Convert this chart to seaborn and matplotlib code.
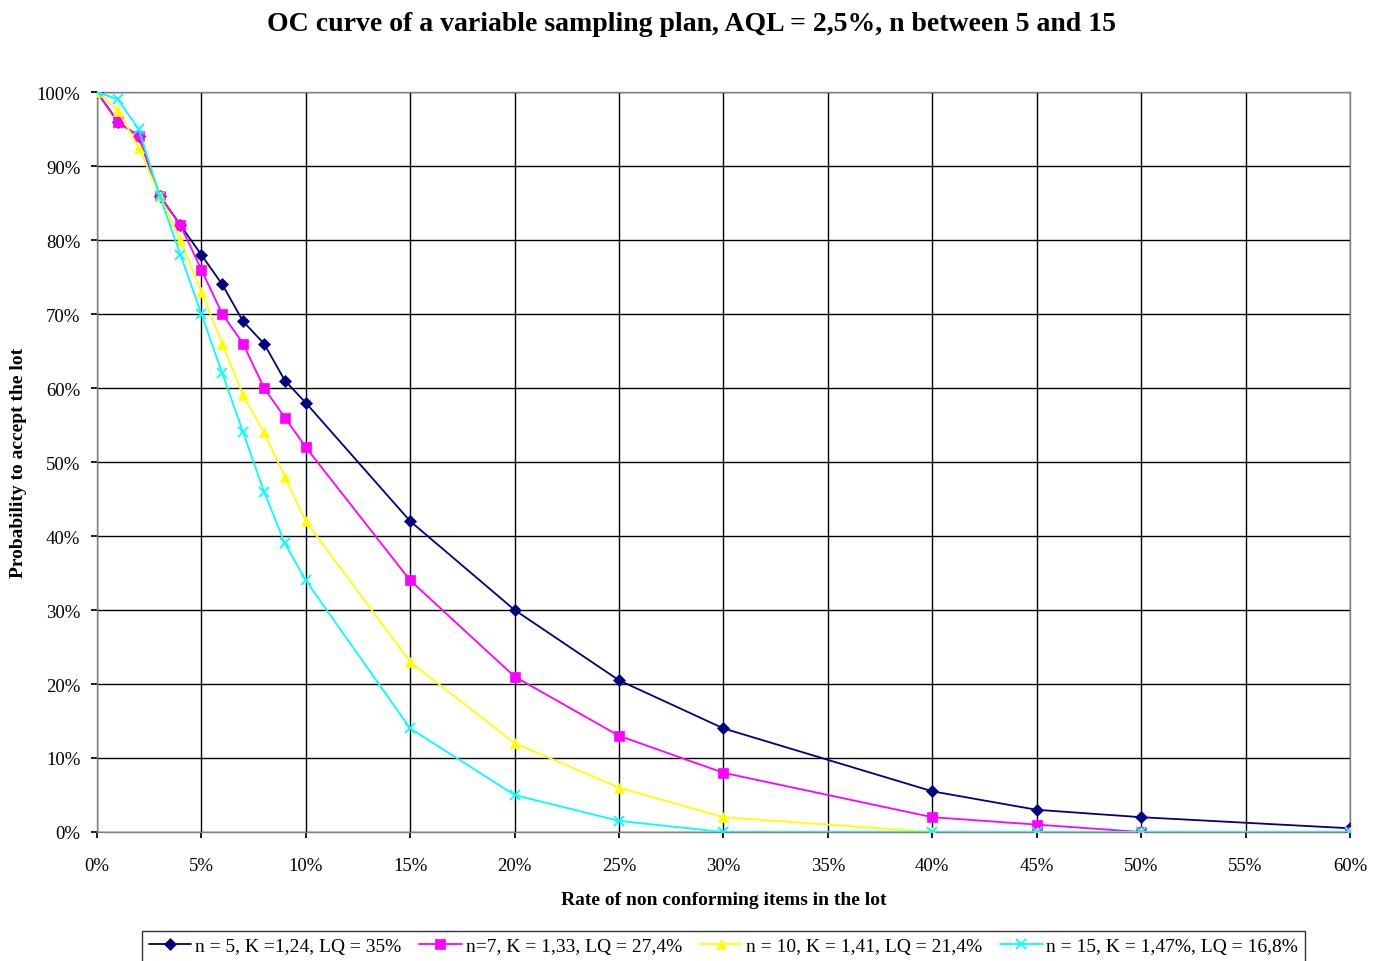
import matplotlib
matplotlib.use("Agg")
import matplotlib.pyplot as plt
import seaborn as sns
import pandas as pd
from matplotlib.ticker import FuncFormatter, MultipleLocator

# Rate of non conforming items (%) and acceptance probability (%) per plan
rate = [0, 1, 2, 3, 4, 5, 6, 7, 8, 9, 10, 15, 20, 25, 30, 40, 45, 50, 60]
pa_n5 = [100, 96, 94, 86, 82, 78, 74, 69, 66, 61, 58, 42, 30, 20.5, 14, 5.5, 3, 2, 0.5]
pa_n7 = [100, 96, 94, 86, 82, 76, 70, 66, 60, 56, 52, 34, 21, 13, 8, 2, 1, 0, 0]
pa_n10 = [100, 97.5, 92.5, 86, 80, 73, 66, 59, 54, 48, 42, 23, 12, 6, 2, 0, 0, 0, 0]
pa_n15 = [100, 99, 95, 86, 78, 70, 62, 54, 46, 39, 34, 14, 5, 1.5, 0, 0, 0, 0, 0]

plan_labels = [
    "n = 5, K =1,24, LQ = 35%",
    "n=7, K = 1,33, LQ = 27,4%",
    "n = 10, K = 1,41, LQ = 21,4%",
    "n = 15, K = 1,47%, LQ = 16,8%",
]
plan_colors = ["#000080", "#FF00FF", "#FFFF00", "#00FFFF"]
plan_markers = ["D", "s", "^", "x"]
plan_sizes = [6, 7, 7, 7]

frames = []
for lab, vals in zip(plan_labels, [pa_n5, pa_n7, pa_n10, pa_n15]):
    frames.append(pd.DataFrame({"rate": rate, "pa": vals, "plan": lab}))
df = pd.concat(frames, ignore_index=True)

sns.set_theme(style="white")
plt.rcParams["font.family"] = ["Liberation Serif", "DejaVu Serif"]
plt.rcParams["text.color"] = "black"
plt.rcParams["axes.labelcolor"] = "black"

fig = plt.figure(figsize=(13.83, 9.62), dpi=100)
ax = fig.add_axes([0.0701, 0.1341, 0.9060, 0.7692])

for lab, col, mk, ms in zip(plan_labels, plan_colors, plan_markers, plan_sizes):
    sub = df[df["plan"] == lab]
    sns.lineplot(data=sub, x="rate", y="pa", ax=ax, color=col, marker=mk,
                 markersize=ms, markeredgecolor=col, markeredgewidth=1.3 if mk == "x" else 0.5,
                 linewidth=1.3, label=lab, zorder=3)

ax.set_xlim(0, 60)
ax.set_ylim(0, 100)
ax.xaxis.set_major_locator(MultipleLocator(5))
ax.yaxis.set_major_locator(MultipleLocator(10))
pct = FuncFormatter(lambda v, p: f"{v:.0f}%")
ax.xaxis.set_major_formatter(pct)
ax.yaxis.set_major_formatter(pct)
ax.grid(True, color="black", linewidth=1.0, zorder=0)
ax.set_axisbelow(True)
for s in ax.spines.values():
    s.set_color("#808080")
    s.set_linewidth(1.0)
ax.tick_params(axis="x", labelsize=13.5, colors="black", length=4,
               direction="out", bottom=True, pad=14)
ax.tick_params(axis="y", labelsize=13.5, colors="black", length=4,
               direction="out", left=True, pad=8)

ax.set_xlabel("Rate of non conforming items in the lot", fontsize=14,
              fontweight="bold", labelpad=12)
ax.set_ylabel("Probability to accept the lot", fontsize=14,
              fontweight="bold", labelpad=7)
fig.suptitle("OC curve of a variable sampling plan, AQL = 2,5%, n between 5 and 15",
             fontsize=20, fontweight="bold", y=0.988, color="black")

leg = ax.legend(loc="upper center", bbox_to_anchor=(0.5, -0.12), ncol=4,
                fontsize=14, frameon=True, fancybox=False, handlelength=2.2,
                handletextpad=0.2, columnspacing=0.9, borderpad=0.35)
leg.get_frame().set_edgecolor("black")
leg.get_frame().set_linewidth(1.0)

fig.savefig("out.png", dpi=100, facecolor="white")
